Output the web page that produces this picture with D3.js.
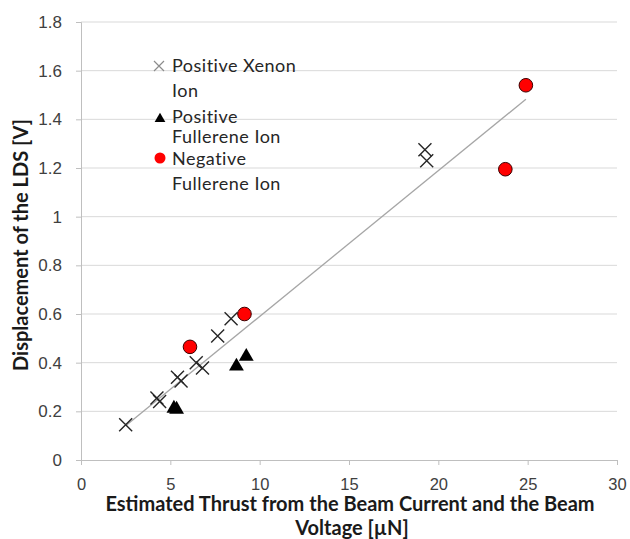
<!DOCTYPE html>
<html>
<head>
<meta charset="utf-8">
<script src="https://cdn.jsdelivr.net/npm/d3@7"></script>
<style>
  html, body { margin: 0; padding: 0; background: #fff; }
  svg { display: block; font-family: Lato, "Open Sans", sans-serif; }
</style>
</head>
<body>
<svg id="chart" width="630" height="539"></svg>
<script>
// Positive xenon ion measurements [thrust µN, displacement V]
const xenonX = [2.5, 4.25, 4.4, 5.4, 5.6, 6.45, 6.8, 7.65, 8.4, 19.25, 19.35];
const xenonY = [0.145, 0.255, 0.24, 0.34, 0.325, 0.40, 0.378, 0.51, 0.58, 1.275, 1.23];
// Positive fullerene ion measurements
const posFullX = [5.2, 5.35, 8.7, 9.25];
const posFullY = [0.212, 0.208, 0.385, 0.425];
// Negative fullerene ion measurements
const negFullX = [6.1, 9.15, 23.75, 24.9];
const negFullY = [0.465, 0.60, 1.195, 1.54];
// Linear trend line coefficients and span
const trendSlope = 0.0599;
const trendIntercept = -0.009;
const trendSpan = [2.5, 24.9];

const xTicks = [0, 5, 10, 15, 20, 25, 30];
const yTicks = [0, 0.2, 0.4, 0.6, 0.8, 1, 1.2, 1.4, 1.6, 1.8];
const legendLabels = [["Positive Xenon", "Ion"], ["Positive", "Fullerene Ion"], ["Negative", "Fullerene Ion"]];

const svg = d3.select("#chart");
const x = d3.scaleLinear().domain([0, 30]).range([81, 617]);
const y = d3.scaleLinear().domain([0, 1.8]).range([460, 22]);

const tickColor = "#404040";

// horizontal gridlines
svg.append("g").selectAll("line").data(yTicks.filter(d => d > 0)).join("line")
  .attr("x1", x(0)).attr("x2", x(30))
  .attr("y1", d => y(d)).attr("y2", d => y(d))
  .attr("stroke", "#d9d9d9").attr("stroke-width", 1);

// y axis
const yAxis = svg.append("g").attr("transform", `translate(${x(0)},0)`)
  .call(d3.axisLeft(y).tickValues(yTicks).tickSize(5).tickPadding(14)
    .tickFormat(d => d === 0 || d === 1 ? String(d) : d3.format(".1f")(d)));
yAxis.select(".domain").attr("stroke", "#bfbfbf");
yAxis.selectAll(".tick line").attr("stroke", "#bfbfbf");
yAxis.selectAll(".tick text").attr("fill", tickColor).attr("font-size", 17);

// x axis
const xAxis = svg.append("g").attr("transform", `translate(0,${y(0)})`)
  .call(d3.axisBottom(x).tickValues(xTicks).tickSize(5).tickPadding(13));
xAxis.select(".domain").attr("stroke", "#bfbfbf");
xAxis.selectAll(".tick line").attr("stroke", "#bfbfbf");
xAxis.selectAll(".tick text").attr("fill", tickColor).attr("font-size", 16.5);

// trend line
svg.append("line")
  .attr("x1", x(trendSpan[0])).attr("y1", y(trendSlope * trendSpan[0] + trendIntercept))
  .attr("x2", x(trendSpan[1])).attr("y2", y(trendSlope * trendSpan[1] + trendIntercept))
  .attr("stroke", "#a6a6a6").attr("stroke-width", 1.3);

const crossPath = s => `M${-s},${-s}L${s},${s}M${-s},${s}L${s},${-s}`;
const triPath = d3.symbol().type(d3.symbolTriangle).size(95)();

// positive xenon: crosses
svg.append("g").selectAll("path").data(d3.zip(xenonX, xenonY)).join("path")
  .attr("transform", d => `translate(${x(d[0])},${y(d[1])})`)
  .attr("d", crossPath(6.5))
  .attr("stroke", "#262626").attr("stroke-width", 1.4).attr("fill", "none");

// positive fullerene: triangles
svg.append("g").selectAll("path").data(d3.zip(posFullX, posFullY)).join("path")
  .attr("transform", d => `translate(${x(d[0])},${y(d[1])})`)
  .attr("d", triPath).attr("fill", "#000");

// negative fullerene: red circles
svg.append("g").selectAll("circle").data(d3.zip(negFullX, negFullY)).join("circle")
  .attr("cx", d => x(d[0])).attr("cy", d => y(d[1])).attr("r", 6.8)
  .attr("fill", "#ff0000").attr("stroke", "#3a0000").attr("stroke-width", 1);

// legend
const lg = svg.append("g").attr("font-size", 18).attr("letter-spacing", 0.5).attr("fill", "#262626");
lg.append("path").attr("transform", "translate(159,66)").attr("d", crossPath(5))
  .attr("stroke", "#8c8c8c").attr("stroke-width", 1.2).attr("fill", "none");
lg.append("path").attr("transform", "translate(160,119)")
  .attr("d", d3.symbol().type(d3.symbolTriangle).size(50)()).attr("fill", "#000");
lg.append("circle").attr("cx", 160).attr("cy", 158).attr("r", 5.5).attr("fill", "#ff0000");
const legendRows = [[72, 97], [123, 143], [165, 190]];
legendLabels.forEach((lines, i) => {
  lines.forEach((t, j) => {
    lg.append("text").attr("x", 172).attr("y", legendRows[i][j]).text(t);
  });
});

// axis titles
svg.append("text")
  .attr("transform", "translate(28,245) rotate(-90)")
  .attr("text-anchor", "middle").attr("font-size", 20).attr("font-weight", "bold")
  .attr("fill", "#1a1a1a").text("Displacement of the LDS [V]");
const xt = svg.append("text").attr("text-anchor", "middle").attr("font-size", 20)
  .attr("font-weight", "bold").attr("fill", "#1a1a1a");
xt.append("tspan").attr("x", 350).attr("y", 511).text("Estimated Thrust from the Beam Current and the Beam");
xt.append("tspan").attr("x", 352).attr("y", 535).text("Voltage [µN]");
</script>
</body>
</html>
